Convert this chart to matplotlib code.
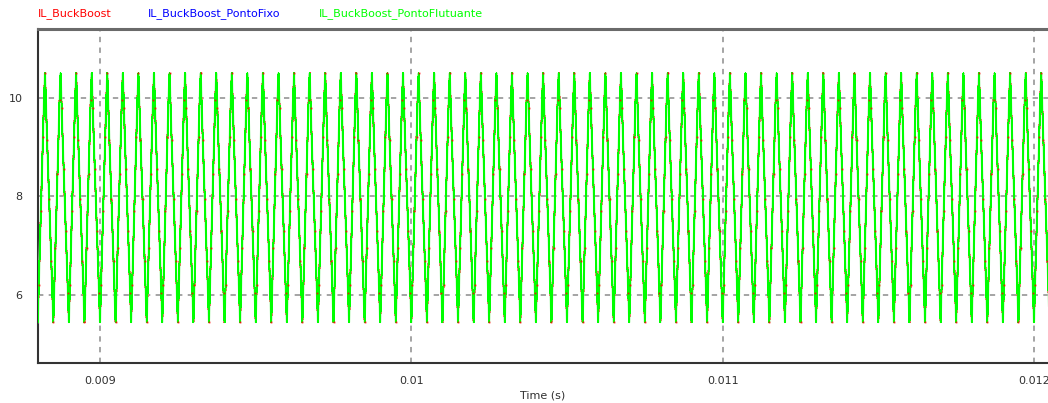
import numpy as np
import matplotlib.pyplot as plt

# Inductor current, one switching cycle (A), sampled every T_SW/15
il_cycle = [5.45, 6.2, 6.95, 7.7, 8.45, 9.2, 9.95, 10.5,
            9.8, 9.15, 8.55, 7.95, 7.3, 6.7, 6.05]
T_SW = 5e-5          # switching period (s)
t_start = 0.0088     # first cycle start (s)
n_cycles = 66

x_ticks = [0.009, 0.010, 0.011, 0.012]
x_ticklabels = ['0.009', '0.01', '0.011', '0.012']
y_ticks = [6, 8, 10]
y_ticklabels = ['6', '8', '10']

series_names = ['IL_BuckBoost', 'IL_BuckBoost_PontoFixo', 'IL_BuckBoost_PontoFlutuante']
series_colors = ['#ff0000', '#0000ff', '#00ff00']

dt = T_SW / len(il_cycle)
t = t_start + np.arange(len(il_cycle) * n_cycles) * dt
il = np.tile(il_cycle, n_cycles)

W, H = 1048, 403
fig = plt.figure(figsize=(W / 100, H / 100), dpi=100)
ax = fig.add_axes([38 / W, 1 - 363 / H, (1052 - 38) / W, (363 - 29) / H])

# all three solvers give the same current, so the traces overlap
ax.plot(t, il, color=series_colors[1], lw=0.8, antialiased=False, zorder=2)
ax.plot(t, il, color=series_colors[0], lw=0.8, antialiased=False, zorder=2)
ax.plot(t, il, color='#a8f7a8', lw=1.6, zorder=3)
ax.plot(t, il, color=series_colors[2], lw=0.7, antialiased=False, zorder=4)
# sample points of the reference model peek out on top
ax.plot(t, il, linestyle='none', marker='s', ms=1.3, mew=0,
        color=series_colors[0], alpha=0.85, markevery=(1, 2), zorder=5)

ax.set_xlim(0.0088008, 0.0120578)
ax.set_ylim(4.62, 11.40)

ax.set_xticks(x_ticks)
ax.set_xticklabels(x_ticklabels)
ax.set_yticks(y_ticks)
ax.set_yticklabels(y_ticklabels)
ax.tick_params(length=0, labelsize=8, labelcolor='#303030')
ax.tick_params(axis='x', pad=9)
ax.tick_params(axis='y', pad=11)
ax.grid(True, color='#8c8c8c', linestyle=(0, (3.5, 3.5)), linewidth=1.1)
ax.set_axisbelow(True)

for side in ['left', 'bottom']:
    ax.spines[side].set_color('#333333')
    ax.spines[side].set_linewidth(1.5)
ax.spines['top'].set_color('#6a6a6a')
ax.spines['top'].set_linewidth(2.2)
ax.spines['right'].set_visible(False)

fig.text(543 / W, 1 - 395 / H, 'Time (s)', ha='center', va='center',
         fontsize=8, color='#303030')

legend_x = [38, 148, 319]
for name, col, lx in zip(series_names, series_colors, legend_x):
    fig.text(lx / W, 1 - 14 / H, name, ha='left', va='center',
             fontsize=8, color=col)

fig.savefig('out.png', dpi=100)
